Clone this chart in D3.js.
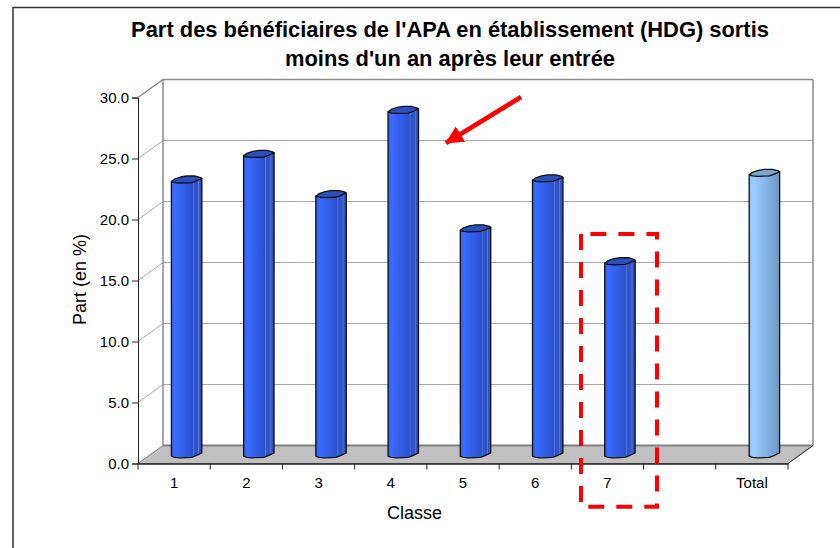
<!DOCTYPE html>
<html>
<head>
<meta charset="utf-8">
<script src="https://cdn.jsdelivr.net/npm/d3@7"></script>
<style>
  html, body { margin: 0; padding: 0; background: #fff; overflow: hidden; }
  svg { display: block; font-family: "Liberation Sans", Arial, sans-serif; }
</style>
</head>
<body>
<div id="chart"></div>
<script>
const categories = ["1", "2", "3", "4", "5", "6", "7", "", "Total"];
const values = [22.5, 24.6, 21.3, 28.2, 18.5, 22.6, 15.8, null, 23.05];
const yTicks = [0, 5, 10, 15, 20, 25, 30];
const titleLines = ["Part des bénéficiaires de l'APA en établissement (HDG) sortis", "moins d'un an après leur entrée"];

const W = 840, H = 548;
const svg = d3.select("#chart").append("svg").attr("width", W).attr("height", H);

// front plane of the fake 3d box, the walls are shifted by depth
const x = d3.scaleBand().domain(categories).range([138, 788]);
const y = d3.scaleLinear().domain([0, 30]).range([463.5, 97.5]);
const depth = { x: 25, y: -18 };

const defs = svg.append("defs");
function cylGradient(id, stops) {
  const g = defs.append("linearGradient").attr("id", id);
  stops.forEach(s => g.append("stop").attr("offset", s[0]).attr("stop-color", s[1]));
}
cylGradient("barDark", [[0, "#3060ea"], [0.12, "#3a6bff"], [0.5, "#2f5ae0"], [0.7, "#2c50c8"], [0.72, "#5a7ce4"], [0.75, "#2f53c8"], [0.87, "#2f53c8"], [0.89, "#5a7ce4"], [0.92, "#3356c4"], [1, "#2a49ab"]]);
cylGradient("barLight", [[0, "#8fc4f8"], [0.15, "#9ccdff"], [0.55, "#85b5e6"], [1, "#6a97c2"]]);

// outer frame, it runs off the page on the right and at the bottom
svg.append("path")
  .attr("d", `M13,${H}V7.5H${W}`)
  .attr("fill", "none").attr("stroke", "#333").attr("stroke-width", 1.5);

// title
svg.append("g").selectAll("text").data(titleLines).join("text")
  .attr("x", 450)
  .attr("y", (d, i) => 37 + i * 29)
  .attr("text-anchor", "middle")
  .style("font-size", "21.9px")
  .style("font-weight", "700")
  .attr("fill", "#000")
  .text(d => d);

const x0 = x.range()[0], x1 = x.range()[1];
const yBottom = y(0), yTop = y(30);

// floor
svg.append("polygon")
  .attr("points", [[x0, yBottom], [x1, yBottom], [x1 + depth.x, yBottom + depth.y], [x0 + depth.x, yBottom + depth.y]].join(" "))
  .attr("fill", "#c0c0c0").attr("stroke", "#808080");

// grid on the side and back walls
const grid = svg.append("g");
grid.selectAll("path").data(yTicks.slice(1)).join("path")
  .attr("d", d => `M${x0},${y(d)}L${x0 + depth.x},${y(d) + depth.y}L${x1 + depth.x},${y(d) + depth.y}`)
  .attr("fill", "none")
  .attr("stroke", d => d === 30 ? "#8c8c8c" : "#a8a8a8")
  .attr("stroke-width", d => d === 30 ? 1.5 : 1);

// back wall edges
svg.append("path")
  .attr("d", `M${x0 + depth.x},${yBottom + depth.y}V${yTop + depth.y}M${x1 + depth.x},${yBottom + depth.y}V${yTop + depth.y}`)
  .attr("stroke", "#8c8c8c").attr("stroke-width", 1.5).attr("fill", "none");
svg.append("path")
  .attr("d", `M${x0 + depth.x},${yBottom + depth.y}H${x1 + depth.x}`)
  .attr("stroke", "#808080").attr("stroke-width", 2).attr("fill", "none");

// floor right side edge
svg.append("path")
  .attr("d", `M${x1},${yBottom}L${x1 + depth.x},${yBottom + depth.y}`)
  .attr("stroke", "#333").attr("fill", "none");

// axes
const yAxis = svg.append("g").attr("transform", `translate(${x0},0)`)
  .call(d3.axisLeft(y).tickValues(yTicks).tickFormat(d3.format(".1f")).tickSize(6).tickPadding(3));
yAxis.selectAll("text").style("font-size", "15px").attr("fill", "#000");
yAxis.selectAll("line, path").attr("stroke", "#222");

const xAxis = svg.append("g").attr("transform", `translate(0,${yBottom})`)
  .call(d3.axisBottom(x).tickSize(0).tickPadding(14));
xAxis.selectAll("text").style("font-size", "15px").attr("fill", "#000");
xAxis.select(".domain").attr("stroke", "#222").attr("stroke-width", 1.5);
xAxis.selectAll(".sep").data(categories.concat(["end"])).join("line")
  .attr("class", "sep")
  .attr("x1", (d, i) => x0 + i * x.step()).attr("x2", (d, i) => x0 + i * x.step())
  .attr("y1", 0).attr("y2", 6)
  .attr("stroke", "#222");

// axis titles
svg.append("text")
  .attr("transform", "translate(86,279.5) rotate(-90)")
  .attr("text-anchor", "middle")
  .style("font-size", "18px")
  .attr("fill", "#000")
  .text("Part (en %)");
svg.append("text")
  .attr("x", 414.5).attr("y", 519)
  .attr("text-anchor", "middle")
  .style("font-size", "18px")
  .attr("fill", "#000")
  .text("Classe");

// bars: cylinders standing in the middle of the depth
const barW = 30.5;
// the low res ellipse of the original, slanted up to the right
const capLine = d3.line();
const capFront = [[15.2, -1.5], [10, 0.8], [5, 2.6], [-7, 3], [-12, 2.6], [-15.2, 1.5]];
const capBack = [[-12, -1], [-6, -3], [0, -4], [8, -4], [14, -2.4]];

const bars = svg.append("g").selectAll("g")
  .data(categories.map((c, i) => ({ c, v: values[i] })).filter(d => d.v !== null))
  .join("g")
  .attr("transform", d => `translate(${x(d.c) + x.bandwidth() / 2 + depth.x / 2},${depth.y / 2})`);

bars.append("path")
  .attr("d", d => {
    const t = y(d.v), b = y(0);
    const bottom = capFront.map(p => [p[0], b + p[1] * 1.1]);
    return capLine([[-barW / 2, t + 1.5], ...bottom.slice().reverse(), [barW / 2, t - 1.5]]) + "Z";
  })
  .attr("fill", d => d.c === "Total" ? "url(#barLight)" : "url(#barDark)")
  .attr("stroke", "#111").attr("stroke-width", 1.3).attr("stroke-linejoin", "round");

bars.append("path")
  .attr("d", d => capLine([...capFront, ...capBack].map(p => [p[0], y(d.v) + p[1]])) + "Z")
  .attr("fill", d => d.c === "Total" ? "#7aa5cf" : "#2a50c0")
  .attr("stroke", "#111").attr("stroke-width", 1.3).attr("stroke-linejoin", "round");

// annotations: red arrow and dashed box
const arrowColor = "#ff0000";
defs.append("marker").attr("id", "arrowHead")
  .attr("viewBox", "0 0 10 10").attr("refX", 9.5).attr("refY", 5)
  .attr("markerWidth", 3.8).attr("markerHeight", 3.8).attr("orient", "auto")
  .append("path").attr("d", "M0,0L10,5L0,10Z").attr("fill", arrowColor);
svg.append("line")
  .attr("x1", 521).attr("y1", 97).attr("x2", 446).attr("y2", 143)
  .attr("stroke", arrowColor).attr("stroke-width", 4.7)
  .attr("marker-end", "url(#arrowHead)");
svg.append("path")
  .attr("d", "M581,234V506.7H657V234H581")
  .attr("fill", "none").attr("stroke", arrowColor).attr("stroke-width", 4)
  .attr("stroke-dasharray", "16 12");
</script>
</body>
</html>
